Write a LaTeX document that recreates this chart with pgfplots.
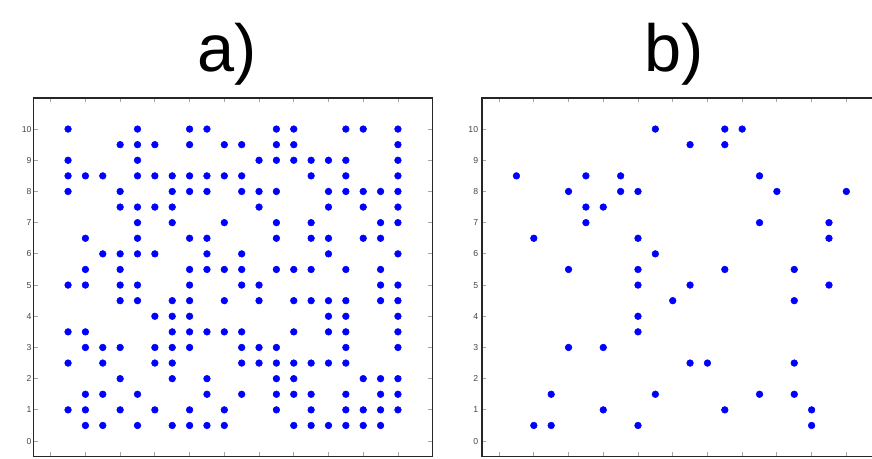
\documentclass[border=0pt]{standalone}
\usepackage{fontspec}
\setmainfont{Liberation Sans}
\usepackage{pgfplots}
\pgfplotsset{compat=1.18}
\definecolor{ptblue}{RGB}{0,0,255}
\definecolor{ticklab}{RGB}{70,70,70}
\pgfplotsset{
  gridpanel/.style={
    scale only axis,
    anchor=south west,
    width=299.5pt, height=269.1pt,
    xmin=-0.5, xmax=11, ymin=-0.5, ymax=11,
    xtick={0,1,...,10}, ytick={0,1,...,10},
    minor tick num=0,
    xticklabel=\empty,
    tick align=inside,
    xtick pos=both, ytick pos=both,
    yticklabel pos=left,
    major tick length=3.2pt,
    tick style={gray!70, line width=0.6pt},
    axis line style={black!85, line width=1.2pt},
    /pgf/number format/assume math mode=true,
    yticklabel style={font=\fontsize{6.5}{7}\selectfont, text=ticklab, inner sep=1.2pt},
  },
  dots/.style={only marks, mark=*, mark size=2.5pt, color=ptblue, mark options={fill=ptblue, draw=ptblue}},
}
\begin{document}
\begin{tikzpicture}
\useasboundingbox (0,0) rectangle (654pt,343.5pt);
\clip (0,0) rectangle (654pt,343.5pt);
% panel a
\begin{axis}[gridpanel, at={(25pt,1.0pt)}]
\addplot[dots] coordinates {
(0.5,10) (2.5,10) (4,10) (4.5,10) (6.5,10) (7,10) (8.5,10) (9,10) (10,10)
(2,9.5) (2.5,9.5) (3,9.5) (4,9.5) (5,9.5) (5.5,9.5) (6.5,9.5) (7,9.5) (10,9.5)
(0.5,9) (2.5,9) (6,9) (6.5,9) (7,9) (7.5,9) (8,9) (8.5,9) (10,9)
(0.5,8.5) (1,8.5) (1.5,8.5) (2.5,8.5) (3,8.5) (3.5,8.5) (4,8.5) (4.5,8.5) (5,8.5) (5.5,8.5) (7.5,8.5) (8.5,8.5) (10,8.5)
(0.5,8) (2,8) (3.5,8) (4,8) (4.5,8) (5.5,8) (6,8) (6.5,8) (8,8) (8.5,8) (9,8) (9.5,8) (10,8)
(2,7.5) (2.5,7.5) (3,7.5) (3.5,7.5) (6,7.5) (8,7.5) (9,7.5) (10,7.5)
(2.5,7) (3.5,7) (5,7) (6.5,7) (7.5,7) (9.5,7) (10,7)
(1,6.5) (2.5,6.5) (4,6.5) (4.5,6.5) (6.5,6.5) (7.5,6.5) (8,6.5) (9,6.5) (9.5,6.5)
(1.5,6) (2,6) (2.5,6) (3,6) (4.5,6) (5.5,6) (8,6) (10,6)
(1,5.5) (2,5.5) (4,5.5) (4.5,5.5) (5,5.5) (5.5,5.5) (6.5,5.5) (7,5.5) (7.5,5.5) (8.5,5.5) (9.5,5.5)
(0.5,5) (1,5) (2,5) (2.5,5) (4,5) (5.5,5) (6,5) (9.5,5) (10,5)
(2,4.5) (2.5,4.5) (3.5,4.5) (4,4.5) (5,4.5) (6,4.5) (7,4.5) (7.5,4.5) (8,4.5) (8.5,4.5) (9.5,4.5) (10,4.5)
(3,4) (3.5,4) (4,4) (8,4) (8.5,4) (10,4)
(0.5,3.5) (1,3.5) (3.5,3.5) (4,3.5) (4.5,3.5) (5,3.5) (5.5,3.5) (7,3.5) (8,3.5) (8.5,3.5) (10,3.5)
(1,3) (1.5,3) (2,3) (3,3) (3.5,3) (4,3) (5.5,3) (6,3) (6.5,3) (8.5,3) (10,3)
(0.5,2.5) (1.5,2.5) (3,2.5) (3.5,2.5) (5.5,2.5) (6,2.5) (6.5,2.5) (7,2.5) (7.5,2.5) (8,2.5) (8.5,2.5)
(2,2) (3.5,2) (4.5,2) (6.5,2) (7,2) (9,2) (9.5,2) (10,2)
(1,1.5) (1.5,1.5) (2.5,1.5) (4.5,1.5) (5.5,1.5) (6.5,1.5) (7,1.5) (7.5,1.5) (8.5,1.5) (9.5,1.5) (10,1.5)
(0.5,1) (1,1) (2,1) (3,1) (4,1) (5,1) (6.5,1) (7.5,1) (8.5,1) (9,1) (9.5,1) (10,1)
(1,0.5) (1.5,0.5) (2.5,0.5) (3.5,0.5) (4,0.5) (4.5,0.5) (5,0.5) (7,0.5) (7.5,0.5) (8,0.5) (8.5,0.5) (9,0.5) (9.5,0.5)
};
\end{axis}
% panel b
\begin{axis}[gridpanel, at={(361.3pt,1.0pt)}, yticklabel style={inner sep=2.5pt}]
\addplot[dots] coordinates {
(4.5,10) (6.5,10) (7,10)
(5.5,9.5) (6.5,9.5)
(0.5,8.5) (2.5,8.5) (3.5,8.5) (7.5,8.5)
(2,8) (3.5,8) (4,8) (8,8) (10,8)
(2.5,7.5) (3,7.5)
(2.5,7) (7.5,7) (9.5,7)
(1,6.5) (4,6.5) (9.5,6.5)
(4.5,6)
(2,5.5) (4,5.5) (6.5,5.5) (8.5,5.5)
(4,5) (5.5,5) (9.5,5)
(5,4.5) (8.5,4.5)
(4,4)
(4,3.5)
(2,3) (3,3)
(5.5,2.5) (6,2.5) (8.5,2.5)
(1.5,1.5) (4.5,1.5) (7.5,1.5) (8.5,1.5)
(3,1) (6.5,1) (9,1)
(1,0.5) (1.5,0.5) (4,0.5) (9,0.5)
};
\end{axis}
% titles
\node[anchor=base west, inner sep=0pt, font=\fontsize{50}{50}\selectfont] at (148.2pt,289.7pt) {a)};
\node[anchor=base west, inner sep=0pt, font=\fontsize{50}{50}\selectfont] at (482.9pt,289.7pt) {b)};
\end{tikzpicture}
\end{document}
